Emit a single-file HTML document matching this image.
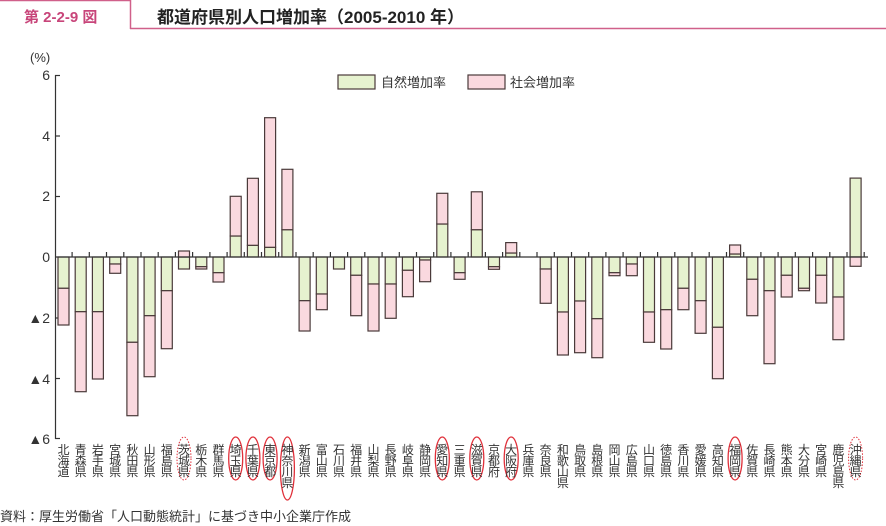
<!DOCTYPE html>
<html><head><meta charset="utf-8"><style>
body{margin:0;width:886px;height:526px;overflow:hidden;background:#fff;font-family:"Liberation Sans","Noto Sans CJK JP",sans-serif;position:relative}
.l{position:absolute;top:445px;width:13px;font-size:12px;line-height:11px;color:#333;text-align:center;word-break:break-all}
</style></head><body>
<svg width="886" height="526" style="position:absolute;left:0;top:0" font-family="Liberation Sans, Noto Sans CJK JP, sans-serif">
<line x1="0" y1="0.5" x2="130" y2="0.5" stroke="#d0608a" stroke-width="1.5"/>
<line x1="130.5" y1="0" x2="130.5" y2="29" stroke="#d0608a" stroke-width="1.5"/>
<line x1="130" y1="28.5" x2="886" y2="28.5" stroke="#d0608a" stroke-width="1.5"/>
<text x="24" y="22" font-size="15" font-weight="bold" fill="#c8457a">第 2-2-9 図</text>
<text x="157" y="23" font-size="17" font-weight="bold" fill="#222">都道府県別人口増加率（2005-2010 年）</text>
<text x="30" y="62" font-size="13" fill="#333">(%)</text>
<g font-size="14" fill="#333" text-anchor="end">
<text x="50" y="80">6</text><text x="50" y="141">4</text><text x="50" y="201">2</text><text x="50" y="262">0</text>
<text x="50" y="323">▲2</text><text x="50" y="384">▲4</text><text x="50" y="444">▲6</text>
</g>
<g stroke="#333" stroke-width="1.2">
<line x1="55.5" y1="75" x2="55.5" y2="439"/>
<line x1="55" y1="75.5" x2="60" y2="75.5"/><line x1="55" y1="136" x2="60" y2="136"/><line x1="55" y1="196.5" x2="60" y2="196.5"/>
<line x1="55" y1="318" x2="60" y2="318"/><line x1="55" y1="378.5" x2="60" y2="378.5"/><line x1="55" y1="438.5" x2="60" y2="438.5"/>
</g>
<rect x="338" y="75" width="37" height="14" fill="#e6f2cf" stroke="#4a3a3a" stroke-width="1.2"/>
<text x="381" y="87" font-size="13" fill="#333">自然増加率</text>
<rect x="468" y="75" width="37" height="14" fill="#fad9df" stroke="#4a3a3a" stroke-width="1.2"/>
<text x="510" y="87" font-size="13" fill="#333">社会増加率</text>
<g stroke="#4a3a3a" stroke-width="1.2">
<g fill="#e6f2cf">
<rect x="58" y="257" width="11" height="31.3"/>
<rect x="75.2" y="257" width="11" height="54.7"/>
<rect x="92.4" y="257" width="11" height="54.7"/>
<rect x="109.7" y="257" width="11" height="7"/>
<rect x="126.9" y="257" width="11" height="85.3"/>
<rect x="144.1" y="257" width="11" height="58.7"/>
<rect x="161.3" y="257" width="11" height="33.7"/>
<rect x="178.5" y="257" width="11" height="12"/>
<rect x="195.8" y="257" width="11" height="9.7"/>
<rect x="213" y="257" width="11" height="15.7"/>
<rect x="230.2" y="236" width="11" height="21"/>
<rect x="247.4" y="245.3" width="11" height="11.7"/>
<rect x="264.6" y="247.3" width="11" height="9.7"/>
<rect x="281.9" y="229.7" width="11" height="27.3"/>
<rect x="299.1" y="257" width="11" height="43.7"/>
<rect x="316.3" y="257" width="11" height="37"/>
<rect x="333.5" y="257" width="11" height="12"/>
<rect x="350.7" y="257" width="11" height="18.3"/>
<rect x="368" y="257" width="11" height="27"/>
<rect x="385.2" y="257" width="11" height="27"/>
<rect x="402.4" y="257" width="11" height="13.3"/>
<rect x="419.6" y="257" width="11" height="3"/>
<rect x="436.8" y="224" width="11" height="33"/>
<rect x="454.1" y="257" width="11" height="15.7"/>
<rect x="471.3" y="229.7" width="11" height="27.3"/>
<rect x="488.5" y="257" width="11" height="9.7"/>
<rect x="505.7" y="253" width="11" height="4"/>
<rect x="540.2" y="257" width="11" height="12"/>
<rect x="557.4" y="257" width="11" height="55"/>
<rect x="574.6" y="257" width="11" height="44"/>
<rect x="591.8" y="257" width="11" height="61.7"/>
<rect x="609" y="257" width="11" height="15.7"/>
<rect x="626.3" y="257" width="11" height="7"/>
<rect x="643.5" y="257" width="11" height="55"/>
<rect x="660.7" y="257" width="11" height="52.7"/>
<rect x="677.9" y="257" width="11" height="31.3"/>
<rect x="695.1" y="257" width="11" height="43.7"/>
<rect x="712.4" y="257" width="11" height="70.3"/>
<rect x="729.6" y="254" width="11" height="3"/>
<rect x="746.8" y="257" width="11" height="22.3"/>
<rect x="764" y="257" width="11" height="33.7"/>
<rect x="781.2" y="257" width="11" height="18.3"/>
<rect x="798.5" y="257" width="11" height="31.3"/>
<rect x="815.7" y="257" width="11" height="18.3"/>
<rect x="832.9" y="257" width="11" height="40"/>
<rect x="850.1" y="178.1" width="11" height="78.9"/>
</g>
<g fill="#fad9df">
<rect x="58" y="288.3" width="11" height="36.7"/>
<rect x="75.2" y="311.7" width="11" height="80"/>
<rect x="92.4" y="311.7" width="11" height="67.3"/>
<rect x="109.7" y="264" width="11" height="9.3"/>
<rect x="126.9" y="342.3" width="11" height="73.4"/>
<rect x="144.1" y="315.7" width="11" height="61"/>
<rect x="161.3" y="290.7" width="11" height="58"/>
<rect x="178.5" y="251" width="11" height="6"/>
<rect x="195.8" y="266.7" width="11" height="2.3"/>
<rect x="213" y="272.7" width="11" height="9.3"/>
<rect x="230.2" y="196.3" width="11" height="39.7"/>
<rect x="247.4" y="178.3" width="11" height="67"/>
<rect x="264.6" y="117.7" width="11" height="129.6"/>
<rect x="281.9" y="169.3" width="11" height="60.4"/>
<rect x="299.1" y="300.7" width="11" height="30.3"/>
<rect x="316.3" y="294" width="11" height="15.7"/>
<rect x="350.7" y="275.3" width="11" height="40.4"/>
<rect x="368" y="284" width="11" height="47"/>
<rect x="385.2" y="284" width="11" height="34.3"/>
<rect x="402.4" y="270.3" width="11" height="26.4"/>
<rect x="419.6" y="260" width="11" height="21.7"/>
<rect x="436.8" y="193.3" width="11" height="30.7"/>
<rect x="454.1" y="272.7" width="11" height="6.6"/>
<rect x="471.3" y="191.8" width="11" height="37.9"/>
<rect x="488.5" y="266.7" width="11" height="2.6"/>
<rect x="505.7" y="242.6" width="11" height="10.4"/>
<rect x="540.2" y="269" width="11" height="34.3"/>
<rect x="557.4" y="312" width="11" height="43"/>
<rect x="574.6" y="301" width="11" height="51.7"/>
<rect x="591.8" y="318.7" width="11" height="39"/>
<rect x="609" y="272.7" width="11" height="3"/>
<rect x="626.3" y="264" width="11" height="11.7"/>
<rect x="643.5" y="312" width="11" height="30.3"/>
<rect x="660.7" y="309.7" width="11" height="39.3"/>
<rect x="677.9" y="288.3" width="11" height="21.4"/>
<rect x="695.1" y="300.7" width="11" height="32.6"/>
<rect x="712.4" y="327.3" width="11" height="51.4"/>
<rect x="729.6" y="245" width="11" height="9"/>
<rect x="746.8" y="279.3" width="11" height="36.4"/>
<rect x="764" y="290.7" width="11" height="73"/>
<rect x="781.2" y="275.3" width="11" height="21.7"/>
<rect x="798.5" y="288.3" width="11" height="2.4"/>
<rect x="815.7" y="275.3" width="11" height="27.7"/>
<rect x="832.9" y="297" width="11" height="42.7"/>
<rect x="850.1" y="257" width="11" height="9.3"/>
</g>
</g>
<g stroke="#333" stroke-width="1.2">
<line x1="55" y1="257" x2="868" y2="257"/>
<path d="M72.1 252V257M89.3 252V257M106.5 252V257M123.8 252V257M141 252V257M158.2 252V257M175.4 252V257M192.6 252V257M209.9 252V257M227.1 252V257M244.3 252V257M261.5 252V257M278.7 252V257M296 252V257M313.2 252V257M330.4 252V257M347.6 252V257M364.8 252V257M382.1 252V257M399.3 252V257M416.5 252V257M433.7 252V257M450.9 252V257M468.2 252V257M485.4 252V257M502.6 252V257M519.8 252V257M537 252V257M554.3 252V257M571.5 252V257M588.7 252V257M605.9 252V257M623.1 252V257M640.4 252V257M657.6 252V257M674.8 252V257M692 252V257M709.2 252V257M726.5 252V257M743.7 252V257M760.9 252V257M778.1 252V257M795.3 252V257M812.6 252V257M829.8 252V257M847 252V257M864.2 252V257"/>
</g>
<g fill="none" stroke="#e0303a" stroke-width="1.3">
<ellipse cx="235.7" cy="458.5" rx="7" ry="21.5"/>
<ellipse cx="252.9" cy="458.5" rx="7" ry="21.5"/>
<ellipse cx="270.1" cy="458.5" rx="7" ry="21.5"/>
<ellipse cx="287.4" cy="468.5" rx="7" ry="31.5"/>
<ellipse cx="442.3" cy="458.5" rx="7" ry="21.5"/>
<ellipse cx="476.8" cy="458.5" rx="7" ry="21.5"/>
<ellipse cx="511.2" cy="458.5" rx="7" ry="21.5"/>
<ellipse cx="735.1" cy="458.5" rx="7" ry="21.5"/>
</g>
<g fill="none" stroke="#e0303a" stroke-width="1" stroke-dasharray="1.5 1.5">
<ellipse cx="184" cy="458.5" rx="7" ry="21.5"/>
<ellipse cx="855.6" cy="458.5" rx="7" ry="21.5"/>
</g>
<text x="0" y="521" font-size="13" fill="#333">資料：厚生労働省「人口動態統計」に基づき中小企業庁作成</text>
</svg>
<div class="l" style="left:57px">北海道</div>
<div class="l" style="left:74.2px">青森県</div>
<div class="l" style="left:91.4px">岩手県</div>
<div class="l" style="left:108.7px">宮城県</div>
<div class="l" style="left:125.9px">秋田県</div>
<div class="l" style="left:143.1px">山形県</div>
<div class="l" style="left:160.3px">福島県</div>
<div class="l" style="left:177.5px">茨城県</div>
<div class="l" style="left:194.8px">栃木県</div>
<div class="l" style="left:212px">群馬県</div>
<div class="l" style="left:229.2px">埼玉県</div>
<div class="l" style="left:246.4px">千葉県</div>
<div class="l" style="left:263.6px">東京都</div>
<div class="l" style="left:280.9px">神奈川県</div>
<div class="l" style="left:298.1px">新潟県</div>
<div class="l" style="left:315.3px">富山県</div>
<div class="l" style="left:332.5px">石川県</div>
<div class="l" style="left:349.7px">福井県</div>
<div class="l" style="left:367px">山梨県</div>
<div class="l" style="left:384.2px">長野県</div>
<div class="l" style="left:401.4px">岐阜県</div>
<div class="l" style="left:418.6px">静岡県</div>
<div class="l" style="left:435.8px">愛知県</div>
<div class="l" style="left:453.1px">三重県</div>
<div class="l" style="left:470.3px">滋賀県</div>
<div class="l" style="left:487.5px">京都府</div>
<div class="l" style="left:504.7px">大阪府</div>
<div class="l" style="left:521.9px">兵庫県</div>
<div class="l" style="left:539.2px">奈良県</div>
<div class="l" style="left:556.4px">和歌山県</div>
<div class="l" style="left:573.6px">鳥取県</div>
<div class="l" style="left:590.8px">島根県</div>
<div class="l" style="left:608px">岡山県</div>
<div class="l" style="left:625.3px">広島県</div>
<div class="l" style="left:642.5px">山口県</div>
<div class="l" style="left:659.7px">徳島県</div>
<div class="l" style="left:676.9px">香川県</div>
<div class="l" style="left:694.1px">愛媛県</div>
<div class="l" style="left:711.4px">高知県</div>
<div class="l" style="left:728.6px">福岡県</div>
<div class="l" style="left:745.8px">佐賀県</div>
<div class="l" style="left:763px">長崎県</div>
<div class="l" style="left:780.2px">熊本県</div>
<div class="l" style="left:797.5px">大分県</div>
<div class="l" style="left:814.7px">宮崎県</div>
<div class="l" style="left:831.9px">鹿児島県</div>
<div class="l" style="left:849.1px">沖縄県</div>
</body></html>
